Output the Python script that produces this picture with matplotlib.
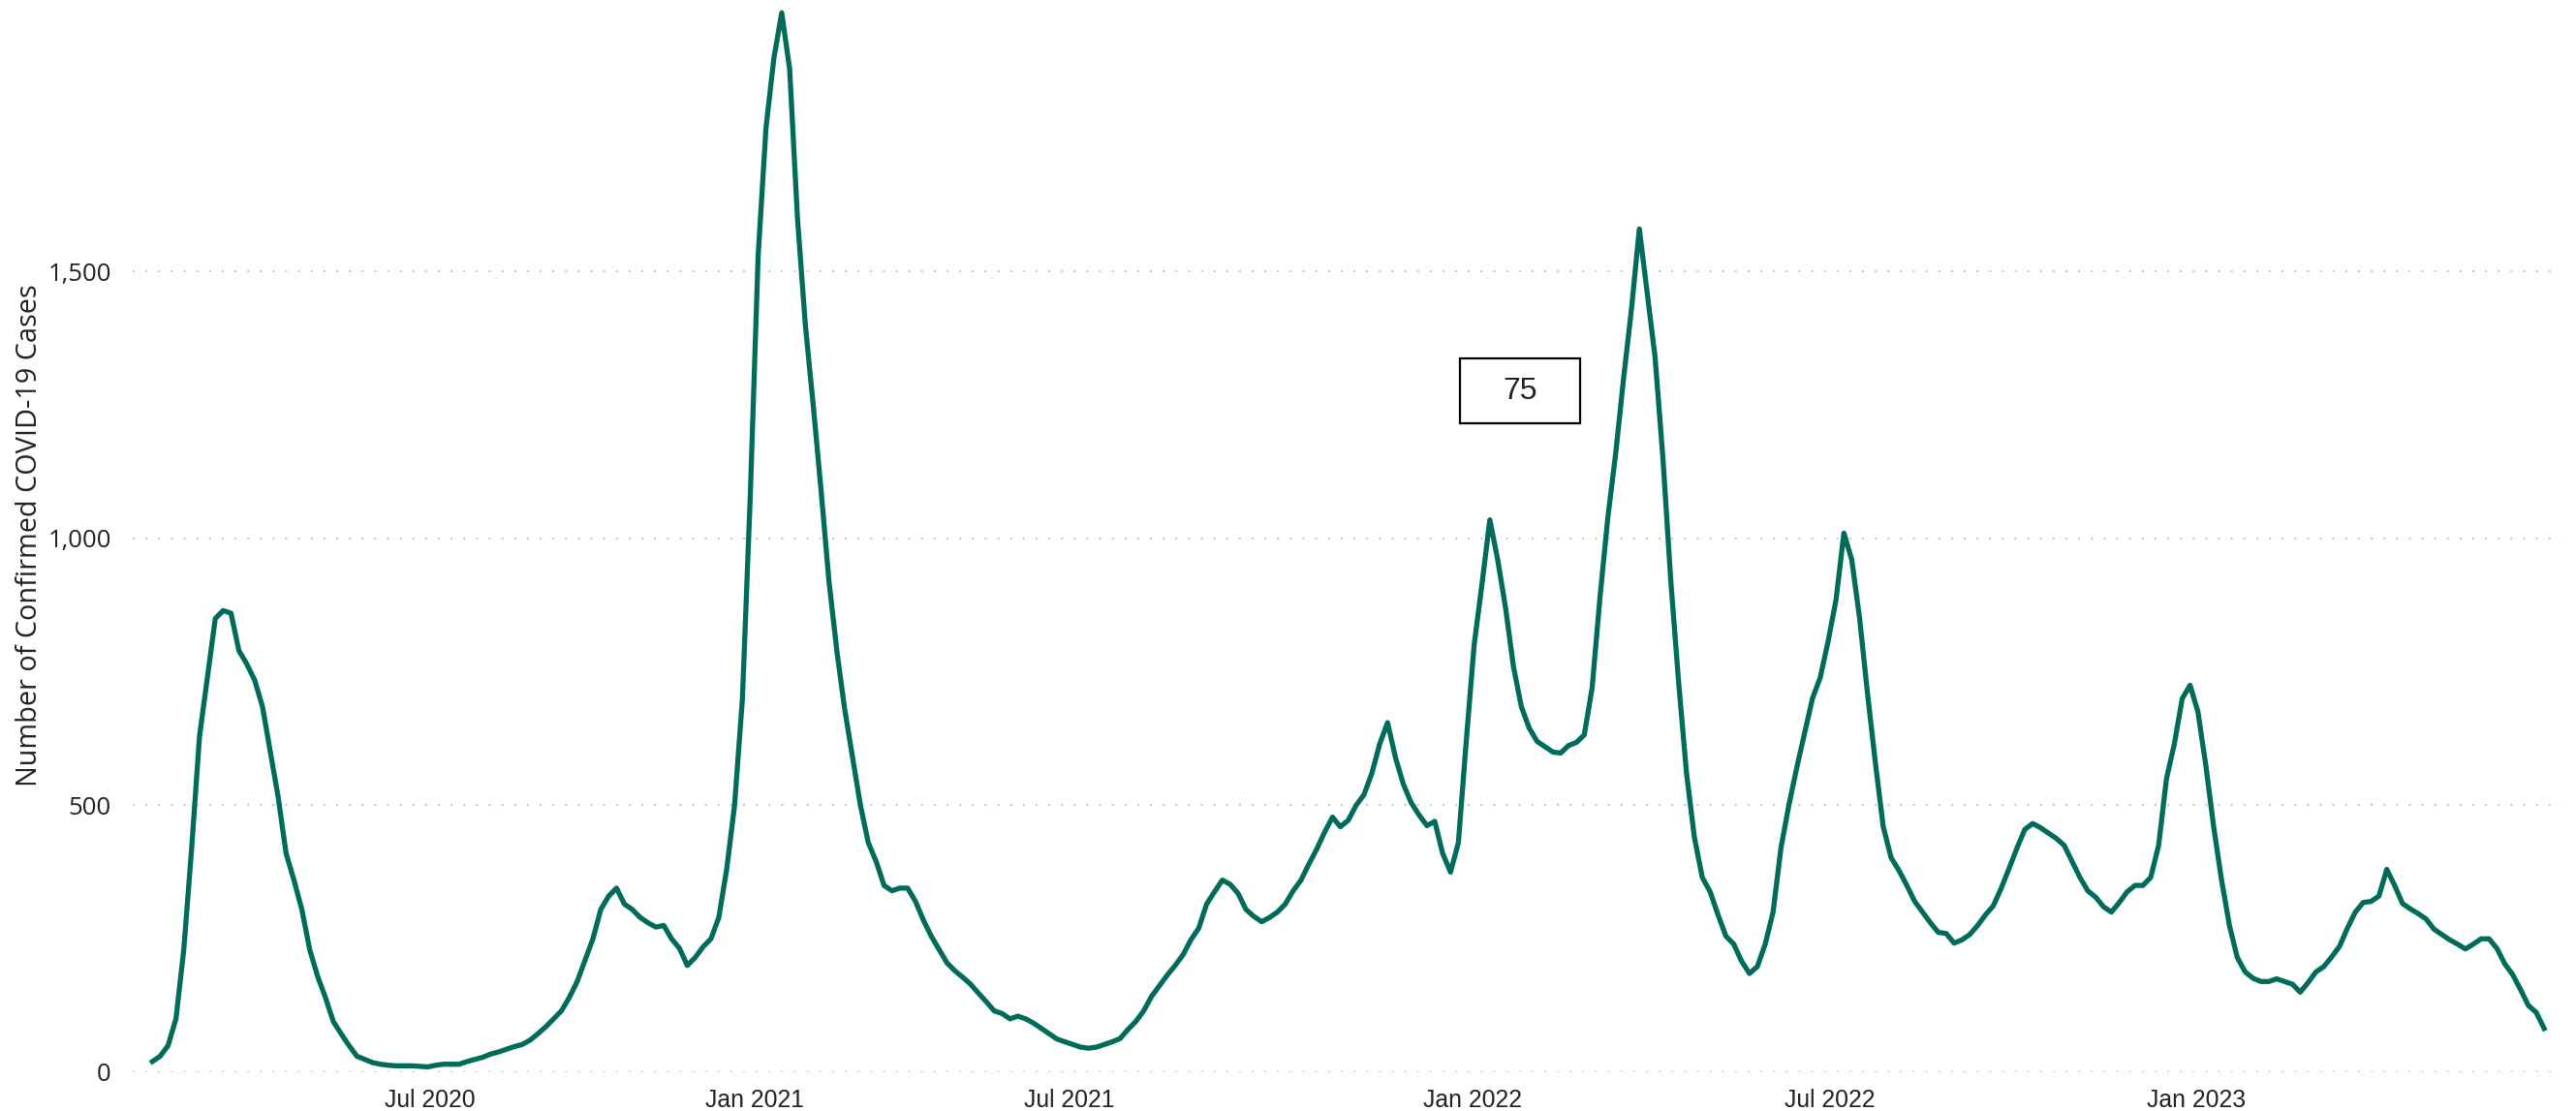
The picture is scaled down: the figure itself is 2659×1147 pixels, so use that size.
import pandas as pd
import numpy as np
import matplotlib.pyplot as plt
from matplotlib.ticker import FuncFormatter

# daily confirmed cases, every 4 days from 2020-03-01
cases = [
    20, 30, 50, 100, 230, 420, 630, 740, 850, 865,
    860, 790, 765, 735, 685, 600, 515, 410, 360, 305,
    230, 180, 140, 95, 72, 50, 30, 24, 18, 15,
    13, 12, 12, 12, 11, 10, 13, 15, 15, 15,
    20, 24, 28, 34, 38, 43, 48, 52, 60, 72,
    85, 100, 115, 140, 170, 210, 250, 305, 330, 345,
    315, 305, 290, 280, 272, 275, 250, 232, 200, 215,
    235, 250, 290, 380, 500, 700, 1080, 1530, 1770, 1900,
    1985, 1880, 1600, 1400, 1250, 1090, 920, 790, 680, 590,
    500, 430, 395, 350, 340, 345, 345, 320, 285, 255,
    230, 205, 190, 178, 165, 148, 132, 115, 110, 100,
    105, 100, 92, 82, 72, 62, 57, 52, 47, 45,
    47, 52, 57, 63, 80, 95, 115, 142, 162, 182,
    200, 220, 248, 270, 315, 338, 360, 352, 335, 305,
    292, 282, 290, 300, 315, 340, 360, 390, 418, 450,
    478, 460, 472, 500, 520, 560, 615, 655, 590, 540,
    505, 482, 462, 470, 410, 375, 430, 620, 800, 915,
    1035, 960, 870, 760, 685, 645, 620, 610, 600, 598,
    612, 618, 632, 720, 890, 1040, 1160, 1300, 1430, 1580,
    1460, 1340, 1150, 920, 730, 560, 440, 365, 338, 295,
    255, 240, 208, 185, 198, 240, 300, 420, 500, 570,
    635, 700, 740, 808, 885, 1010, 960, 850, 710, 580,
    460, 402, 378, 350, 320, 300, 280, 262, 260, 242,
    248, 258, 275, 295, 312, 345, 382, 420, 455, 466,
    458, 448, 438, 425, 395, 365, 340, 328, 310, 300,
    318, 338, 350, 350, 365, 425, 550, 615, 700, 725,
    675, 575, 460, 360, 275, 215, 188, 176, 170, 170,
    175, 170, 165, 150, 168, 188, 198, 216, 236, 270,
    300, 318, 320, 330, 380, 350, 316, 306, 297, 287,
    268, 258, 248, 240, 231, 240, 250, 250, 232, 203,
    183, 155, 125, 112, 82,
]
dates = pd.date_range('2020-03-01', periods=len(cases), freq='4D')

y_ticks = [0, 500, 1000, 1500]
# dates where the axis labels sit in the original
x_tick_dates = ['2020-07-20', '2021-01-01', '2021-06-10', '2022-01-01', '2022-07-02', '2023-01-04']
x_tick_labels = ['Jul 2020', 'Jan 2021', 'Jul 2021', 'Jan 2022', 'Jul 2022', 'Jan 2023']
card_value = '75'

fig = plt.figure(figsize=(26.59, 11.47), dpi=100)
ax = fig.add_axes([0.0515, 0.0349, 0.943, 0.9651])

ax.plot(dates, cases, color='#016B5B', linewidth=3.8, solid_joinstyle='round')

ax.set_ylim(0, 2009)
ax.set_xlim(pd.Timestamp('2020-02-20'), pd.Timestamp('2023-07-09'))

ax.set_yticks(y_ticks)
ax.yaxis.set_major_formatter(FuncFormatter(lambda v, p: f'{int(v):,}'))
ax.set_xticks(pd.to_datetime(x_tick_dates))
ax.set_xticklabels(x_tick_labels)

ax.grid(axis='y', color='#C8C8C8', linestyle=(0, (1, 5.3)), linewidth=1.5)
ax.set_axisbelow(True)
for s in ax.spines.values():
    s.set_visible(False)
ax.tick_params(axis='both', length=0)
ax.tick_params(axis='y', pad=16)
ax.tick_params(axis='x', pad=12)
for lab in ax.get_yticklabels():
    lab.set_fontfamily('Open Sans')
    lab.set_fontsize(18.5)
    lab.set_color('#222222')
for lab in ax.get_xticklabels():
    lab.set_fontfamily('Liberation Sans')
    lab.set_fontsize(17.8)
    lab.set_color('#222222')

fig.text(0.0115, 0.518, 'Number of Confirmed COVID-19 Cases', rotation=90,
         ha='center', va='center', fontsize=20.8, family='Open Sans', color='#222222')

# card with the value
box = plt.Rectangle((1507 / 2659, 1 - 437 / 1147), 124 / 2659, 67 / 1147,
                    transform=fig.transFigure, facecolor='white', edgecolor='black', linewidth=1.6)
fig.patches.append(box)
fig.text((1507 + 62) / 2659, 1 - 403.5 / 1147, card_value, ha='center', va='center',
         fontsize=23, family='Liberation Sans', color='#222222')

fig.savefig('out.png', dpi=100)
